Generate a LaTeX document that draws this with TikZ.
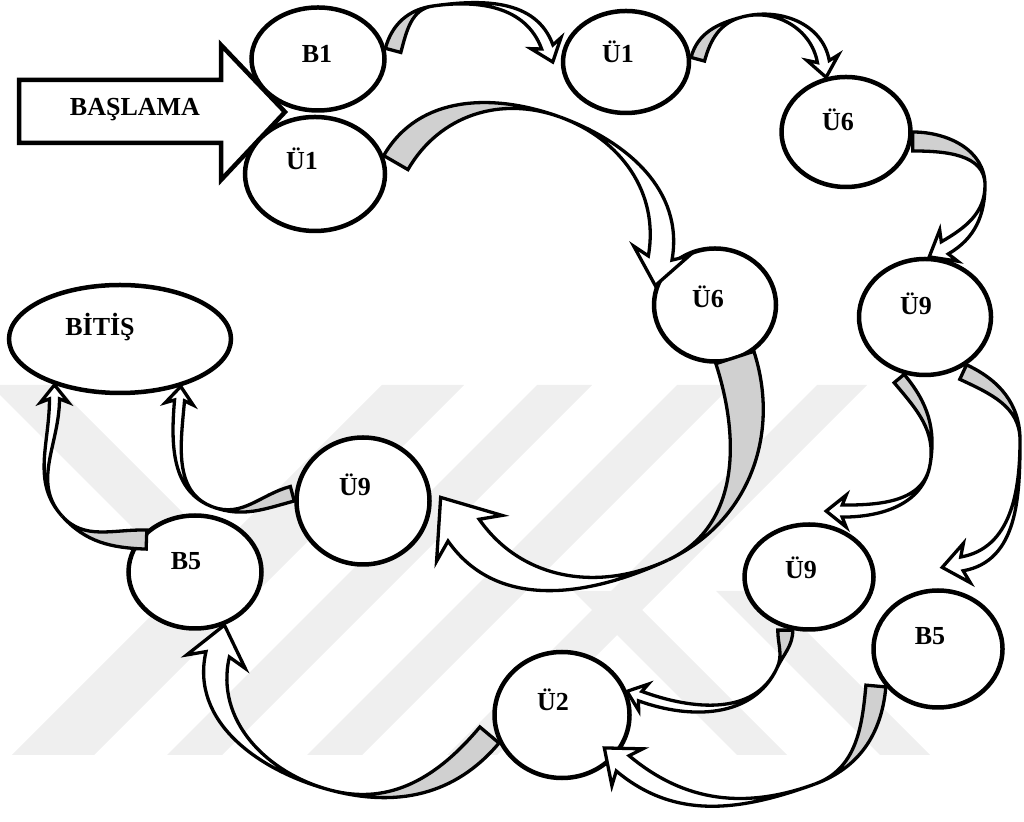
\documentclass[tikz,border=0pt]{standalone}
\usepackage{fontspec}
\setmainfont{Liberation Serif}
\usepackage{xcolor}
\usetikzlibrary{shapes,arrows,positioning,calc}

\definecolor{ribbongray}{RGB}{208,208,208}
\definecolor{markgray}{RGB}{239,239,239}

\tikzset{
  state/.style={ellipse, draw, line width=4.5pt, fill=white, inner sep=0pt},
  lbl/.style={font=\bfseries\fontsize{26}{30}\selectfont},
  band/.style={draw, line width=3.3pt, line join=miter},
}

\def\ribloose{1}
% 弯带箭头: 灰色尾巴, 白色箭头
\newcommand{\ribbon}[9]{%
  \coordinate (p1) at (#1);
  \coordinate (p2) at ($(p1)+(#2-90:#3)$);
  \coordinate (tip) at (#6);
  \coordinate (nk) at ($(tip)+(#7+180:#9)$);
  \coordinate (n1) at ($(nk)+(#7+90:#8)$);
  \coordinate (n2) at ($(nk)+(#7-90:#8)$);
  \coordinate (w1) at ($(nk)+(#7+180:0.25*#9)+(#7+90:#9)$);
  \coordinate (w2) at ($(nk)+(#7+180:0.25*#9)+(#7-90:#9)$);
  \pgfmathsetmacro\ribback{#5+180}%
  \pgfmathsetmacro\ribtip{#7+180}%
  \filldraw[band, fill=ribbongray, looseness=\ribloose] (p1) to[out=#2, in=\ribback] (#4)
    to[out=\ribback, in=#2] (p2) -- cycle;
  \filldraw[band, fill=white, looseness=\ribloose] (#4) to[out=#5, in=\ribtip] (n1) -- (w1) -- (tip)
    -- (w2) -- (n2) to[out=\ribtip, in=#5] (#4) -- cycle;
}

\begin{document}
\begin{tikzpicture}[x=1pt,y=1pt]
  \useasboundingbox (0,0) rectangle (1024,821);
  % 水印
  \begin{scope}
    \clip (0,66) rectangle (1024,436);
    \foreach \x/\w in {12/82, 167/55, 307/55, 447/50}
      \fill[markgray] (\x,66) -- ++(\w,0) -- ++(370,370) -- ++(-\w,0) -- cycle;
    \fill[markgray] (-10,436) -- (55,436) -- (241,250) -- (176,250) -- cycle;
    \foreach \x/\w in {737/50, 880/50}
      \fill[markgray] (\x,66) -- ++(\w,0) -- ++(-164,164) -- ++(-\w,0) -- cycle;
  \end{scope}

  % 开始的大箭头
  \draw[line width=4.5pt, fill=white] (19,678) -- (221,678) -- (221,641) -- (285,709)
    -- (221,776) -- (221,741) -- (19,741) -- cycle;
  \node[lbl] (basla) at (135,711) {BAŞLAMA};

  % 状态
  \node[state, minimum width=133pt, minimum height=103pt, label={[lbl, shift={(-1,5)}]center:B1}] (b1) at (318,762) {};
  \node[state, minimum width=140pt, minimum height=114pt, label={[lbl, shift={(-13,15)}]center:Ü1}] (u1a) at (315,647) {};
  \node[state, minimum width=126pt, minimum height=102pt, label={[lbl, shift={(-8,10)}]center:Ü1}] (u1b) at (626,759) {};
  \node[state, minimum width=129pt, minimum height=110pt, label={[lbl, shift={(-8,12)}]center:Ü6}] (u6a) at (846,689) {};
  \node[state, minimum width=132pt, minimum height=116pt, label={[lbl, shift={(-9,13)}]center:Ü9}] (u9a) at (925,504) {};
  \node[state, minimum width=122pt, minimum height=113pt, label={[lbl, shift={(-7,8)}]center:Ü6}] (u6b) at (715,516) {};
  \node[state, minimum width=222pt, minimum height=108pt, label={[lbl, shift={(-20,12)}]center:BİTİŞ}] (bitis) at (120,482) {};
  \node[state, minimum width=133pt, minimum height=127pt, label={[lbl, shift={(-8,16)}]center:Ü9}] (u9b) at (363,320) {};
  \node[state, minimum width=133pt, minimum height=113pt, label={[lbl, shift={(-9,11)}]center:B5}] (b5a) at (195,249) {};
  \node[state, minimum width=129pt, minimum height=105pt, label={[lbl, shift={(-8,9)}]center:Ü9}] (u9c) at (809,244) {};
  \node[state, minimum width=129pt, minimum height=117pt, label={[lbl, shift={(-8,13)}]center:B5}] (b5b) at (938,172) {};
  \node[state, minimum width=135pt, minimum height=126pt, label={[lbl, shift={(-9,15)}]center:Ü2}] (u2) at (562,106) {};

  % 弯箭头
  \ribbon{b1.9}{75}{16}{433,815}{8}{[xshift=-8pt]u1b.180}{-70}{6}{16}
  \ribbon{u1b.4}{75}{14}{742,804}{15}{u6a.110}{-80}{6}{16}
  \ribbon{u6a.0}{0}{19}{985,636}{-90}{u9a.86}{210}{7}{18}
  \ribbon{u1a.15}{60}{28}{560,704}{-20}{u6b.162}{-100}{12}{28}
  \ribbon{u6b.-50}{-72}{40}{668,261}{205}{[xshift=9pt]u9b.3}{125}{19}{40}
  \ribbon{u9a.-110}{-50}{13}{930,356}{-100}{[yshift=13pt]u9c.72}{180}{6}{16}
  \ribbon{u9a.-49}{-25}{16}{1020,381}{-90}{[yshift=21pt]b5b.86}{190}{7}{20}
  \ribbon{u9c.-107}{-90}{15}{777,153}{-115}{u2.20}{160}{5}{14}
  \ribbon{b5b.-144}{-95}{20}{815,37}{-160}{[shift={(-12,8)}]u2.-37}{140}{10}{24}
  \ribbon{u2.-156}{-130}{25}{330,31}{165}{b5a.-61}{77}{12}{30}
  \ribbon{b5a.139}{178}{-19}{62,305}{132}{bitis.-145}{90}{5}{14}
  \ribbon{u9b.180}{195}{15}{213,314}{160}{bitis.-38}{85}{5}{14}
\end{tikzpicture}
\end{document}
